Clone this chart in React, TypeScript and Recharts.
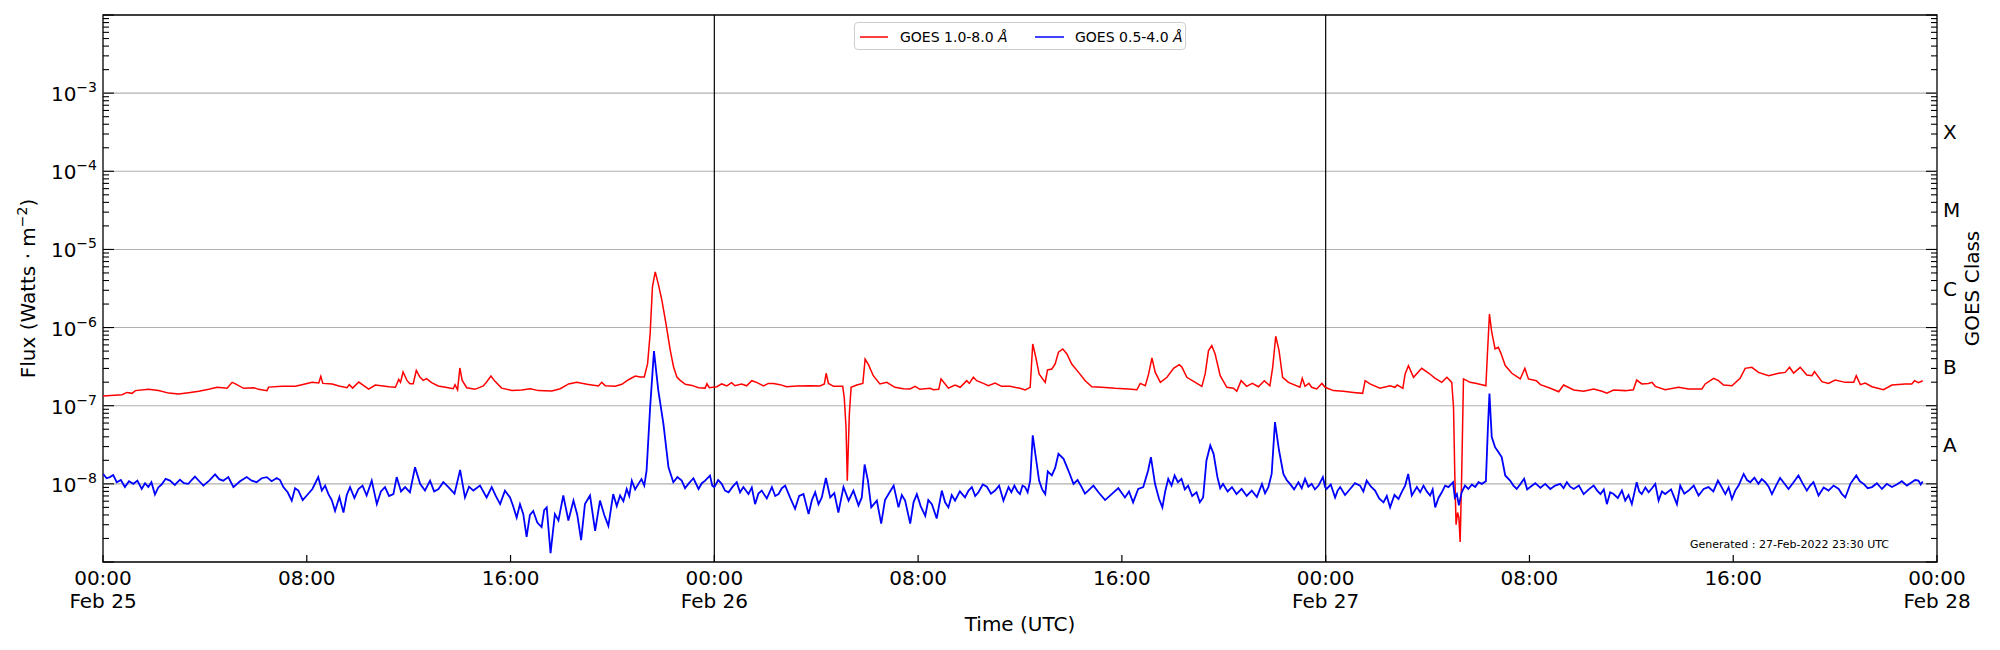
import { LineChart, Line, XAxis, YAxis, ReferenceLine, ReferenceArea } from 'recharts';

document.body.style.margin = '0';

// ─── Data (hours since Feb 25 00:00 UTC) ───────────────────────────────────

// GOES 1.0-8.0 Å, values in units of 1e-7 W/m²
const redHours = [
  0, 0.75, 0.94, 1.14, 1.27, 1.79, 2.18, 2.58, 2.97, 3.36, 3.76, 4.15, 4.48, 4.87, 5.07, 5.2,
  5.52, 5.92, 6.11, 6.44, 6.5, 7.03, 7.55, 7.81, 8.21, 8.47, 8.55, 8.63, 9.0, 9.26, 9.58, 9.67,
  9.8, 10.04, 10.43, 10.69, 11.22, 11.48, 11.61, 11.68, 11.78, 11.94, 12.05, 12.18, 12.3, 12.44,
  12.57, 12.7, 12.9, 13.16, 13.55, 13.75, 13.82, 13.92, 14.01, 14.1, 14.28, 14.6, 14.93, 15.06,
  15.23, 15.39, 15.65, 16.05, 16.44, 16.77, 17.1, 17.62, 17.95, 18.28, 18.6, 19.0, 19.45, 19.58,
  19.72, 20.11, 20.37, 20.63, 20.9, 21.09, 21.25, 21.38, 21.48, 21.57, 21.68, 21.81, 21.94, 22.1,
  22.27, 22.4, 22.53, 22.66, 22.86, 23.12, 23.38, 23.64, 23.71, 23.8, 24.1, 24.29, 24.49, 24.68,
  24.81, 25.07, 25.27, 25.47, 25.66, 25.93, 26.12, 26.32, 26.58, 26.84, 27.24, 27.76, 28.15, 28.32,
  28.39, 28.48, 28.68, 29.04, 29.1, 29.17, 29.22, 29.3, 29.37, 29.59, 29.83, 29.92, 30.05, 30.24,
  30.5, 30.77, 31.09, 31.42, 31.68, 31.88, 32.07, 32.47, 32.6, 32.81, 32.9, 33.06, 33.19, 33.45,
  33.65, 33.91, 34.01, 34.17, 34.3, 34.56, 34.76, 35.02, 35.28, 35.61, 36.0, 36.2, 36.4, 36.5,
  36.62, 36.75, 36.99, 37.08, 37.25, 37.38, 37.51, 37.68, 37.84, 38.03, 38.3, 38.56, 38.82, 39.21,
  39.74, 40.26, 40.59, 40.72, 40.92, 41.05, 41.18, 41.31, 41.51, 41.77, 42.03, 42.25, 42.36, 42.55,
  42.88, 43.14, 43.27, 43.4, 43.53, 43.66, 43.86, 44.12, 44.38, 44.51, 44.68, 44.9, 45.12, 45.36,
  45.59, 45.81, 45.92, 46.04, 46.17, 46.31, 46.54, 46.99, 47.08, 47.19, 47.34, 47.45, 47.65, 47.85,
  47.98, 48.3, 48.7, 49.09, 49.45, 49.55, 49.74, 50.13, 50.53, 50.72, 50.81, 51.03, 51.12, 51.25,
  51.45, 51.77, 52.04, 52.3, 52.56, 52.76, 52.95, 53.02, 53.07, 53.12, 53.18, 53.23, 53.28, 53.34,
  53.41, 53.67, 53.93, 54.29, 54.35, 54.43, 54.52, 54.65, 54.78, 54.88, 55.05, 55.31, 55.64, 55.82,
  55.96, 56.27, 56.43, 56.82, 57.15, 57.34, 57.74, 58.13, 58.52, 58.85, 59.04, 59.3, 59.76, 60.08,
  60.21, 60.41, 60.67, 60.81, 60.94, 61.33, 61.85, 62.25, 62.77, 62.9, 63.23, 63.42, 63.62, 63.95,
  64.27, 64.47, 64.73, 64.99, 65.39, 65.78, 66.04, 66.21, 66.37, 66.63, 66.89, 67.09, 67.19, 67.48,
  67.74, 68.0, 68.4, 68.73, 68.83, 68.99, 69.18, 69.45, 69.9, 70.23, 70.75, 71.01, 71.12, 71.27,
  71.44,
];
const redValues = [
  1.33, 1.38, 1.48, 1.44, 1.56, 1.62, 1.57, 1.45, 1.41, 1.47, 1.53, 1.62, 1.72, 1.67, 1.99, 1.9,
  1.67, 1.7, 1.62, 1.56, 1.73, 1.77, 1.77, 1.86, 1.99, 1.95, 2.38, 1.93, 1.9, 1.79, 1.7, 1.86,
  1.68, 2.01, 1.63, 1.84, 1.75, 1.72, 2.17, 1.99, 2.7, 2.09, 1.91, 1.91, 2.84, 2.33,
  2.11, 2.22, 1.97, 1.79, 1.7, 1.65, 1.86, 1.6, 3.04, 2.11, 1.7, 1.62, 1.79, 2.01,
  2.4, 2.05, 1.68, 1.57, 1.59, 1.65, 1.56, 1.54, 1.65, 1.9, 1.99, 1.88, 1.79, 1.99,
  1.8, 1.77, 1.88, 2.15, 2.4, 2.33, 2.33, 3.45, 8.36, 33.2, 51.6, 34.9, 22.4, 11.3,
  5.12, 3.13, 2.33, 2.11, 1.88, 1.82, 1.7, 1.68, 1.91, 1.7, 1.75, 1.9, 1.79, 1.97,
  1.8, 1.9, 1.8, 2.09, 1.99, 1.79, 1.93, 1.93, 1.86, 1.75, 1.79, 1.8, 1.79, 1.9,
  2.6, 1.93, 1.77, 1.77, 1.28, 0.53, 0.11, 0.78, 1.72, 1.84, 1.93, 3.96, 3.36, 2.42,
  1.9, 1.99, 1.72, 1.65, 1.64, 1.77, 1.62, 1.67, 1.6, 1.62, 2.2, 1.9, 1.68, 1.84,
  1.72, 2.09, 1.93, 2.31, 2.09, 1.93, 1.8, 1.95, 1.77, 1.77, 1.67, 1.59, 1.72, 6.17,
  4.17, 2.55, 1.99, 2.87, 2.95, 3.42, 4.83, 5.32, 4.59, 3.42, 2.67, 2.09, 1.75, 1.72,
  1.67, 1.64, 1.6, 1.93, 1.8, 2.55, 4.08, 2.67, 1.99, 2.31, 3.01, 3.35, 3.1, 2.31,
  1.99, 1.77, 2.55, 5.07, 5.88, 4.59, 2.42, 1.72, 1.67, 1.53, 2.09, 1.77, 1.93, 1.75,
  2.09, 1.8, 3.1, 7.74, 5.07, 2.31, 1.99, 1.72, 2.24, 1.77, 1.93, 1.72, 1.64, 1.93,
  1.72, 1.56, 1.53, 1.48, 1.44, 2.09, 1.9, 1.68, 1.8, 1.72, 1.84, 1.67, 2.55, 3.26,
  2.31, 3.01, 2.62, 2.24, 1.99, 2.31, 1.99, 0.95, 0.13, 0.03, 0.043, 0.037, 0.018, 0.13,
  2.2, 1.99, 1.93, 1.8, 4.59, 14.9, 8.72, 5.32, 5.58, 4.68, 3.26, 2.6, 2.2, 3.01,
  2.2, 2.09, 1.86, 1.67, 1.51, 1.84, 1.59, 1.53, 1.64, 1.53, 1.45, 1.59, 1.56, 1.6,
  2.13, 1.9, 1.93, 1.99, 1.77, 1.6, 1.72, 1.64, 1.64, 1.9, 2.24, 2.09, 1.84, 1.8,
  2.24, 3.01, 3.1, 2.67, 2.42, 2.6, 2.67, 3.1, 2.62, 3.1, 2.47, 2.42, 2.73, 2.03,
  1.93, 2.13, 1.99, 1.99, 2.42, 1.86, 1.95, 1.75, 1.6, 1.84, 1.9, 1.9, 2.09, 1.97,
  2.09,
];

// GOES 0.5-4.0 Å, values in units of 1e-8 W/m²
const blueHours = [
  0.01, 0.14, 0.27, 0.4, 0.54, 0.7, 0.86, 1.02, 1.19, 1.35,
  1.52, 1.65, 1.78, 1.9, 2.04, 2.17, 2.3, 2.46, 2.63, 2.82,
  3.02, 3.18, 3.35, 3.48, 3.61, 3.78, 3.94, 4.17, 4.4, 4.56,
  4.72, 4.92, 5.12, 5.38, 5.64, 5.84, 6.03, 6.23, 6.43, 6.62,
  6.82, 6.95, 7.08, 7.25, 7.41, 7.54, 7.67, 7.84, 8.0, 8.22,
  8.45, 8.59, 8.72, 8.85, 8.98, 9.11, 9.28, 9.44, 9.57, 9.7,
  9.87, 10.03, 10.19, 10.35, 10.55, 10.75, 10.91, 11.07, 11.23, 11.4,
  11.53, 11.7, 11.86, 12.05, 12.25, 12.45, 12.64, 12.84, 13.0, 13.17,
  13.36, 13.56, 13.8, 14.02, 14.21, 14.37, 14.54, 14.8, 15.06, 15.26,
  15.42, 15.59, 15.78, 15.98, 16.1, 16.24, 16.37, 16.5, 16.63, 16.76,
  16.89, 17.05, 17.22, 17.32, 17.42, 17.57, 17.74, 17.88, 18.07, 18.27,
  18.47, 18.62, 18.77, 18.92, 19.12, 19.32, 19.51, 19.68, 19.84, 20.03,
  20.17, 20.3, 20.43, 20.56, 20.66, 20.76, 20.89, 21.02, 21.14, 21.25,
  21.34, 21.48, 21.63, 21.8, 22.0, 22.2, 22.39, 22.55, 22.72, 22.85,
  22.98, 23.18, 23.38, 23.51, 23.64, 23.83, 23.92, 24.0, 24.15, 24.29,
  24.42, 24.56, 24.72, 24.88, 25.01, 25.14, 25.34, 25.47, 25.6, 25.73,
  25.86, 26.06, 26.26, 26.39, 26.52, 26.65, 26.78, 26.98, 27.17, 27.33,
  27.5, 27.7, 27.83, 27.96, 28.09, 28.22, 28.38, 28.55, 28.71, 28.87,
  29.07, 29.27, 29.46, 29.66, 29.79, 29.9, 30.03, 30.16, 30.38, 30.55,
  30.7, 30.84, 31.04, 31.23, 31.36, 31.49, 31.69, 31.82, 31.95, 32.1,
  32.28, 32.4, 32.54, 32.73, 32.93, 33.06, 33.19, 33.32, 33.45, 33.64,
  33.84, 33.98, 34.11, 34.24, 34.37, 34.54, 34.7, 34.86, 35.02, 35.18,
  35.35, 35.55, 35.66, 35.78, 35.9, 36.0, 36.1, 36.2, 36.3, 36.4,
  36.5, 36.62, 36.75, 36.87, 36.99, 37.09, 37.25, 37.38, 37.51, 37.71,
  37.9, 38.1, 38.26, 38.42, 38.55, 38.68, 38.88, 39.08, 39.34, 39.6,
  39.86, 40.12, 40.28, 40.44, 40.64, 40.84, 41.03, 41.14, 41.3, 41.46,
  41.59, 41.7, 41.82, 41.95, 42.07, 42.2, 42.34, 42.47, 42.6, 42.76,
  42.93, 43.06, 43.19, 43.32, 43.47, 43.6, 43.75, 43.86, 43.97, 44.15,
  44.32, 44.5, 44.7, 44.9, 45.1, 45.3, 45.5, 45.62, 45.75, 45.88,
  46.01, 46.17, 46.34, 46.47, 46.6, 46.76, 46.93, 47.06, 47.19, 47.32,
  47.45, 47.58, 47.72, 47.89, 47.98, 48.04, 48.2, 48.37, 48.47, 48.57,
  48.76, 48.96, 49.15, 49.35, 49.48, 49.61, 49.78, 49.94, 50.1, 50.27,
  50.4, 50.53, 50.7, 50.86, 51.0, 51.12, 51.24, 51.38, 51.58, 51.71,
  51.84, 51.97, 52.1, 52.2, 52.3, 52.43, 52.56, 52.69, 52.82, 53.0,
  53.07, 53.15, 53.23, 53.34, 53.47, 53.6, 53.74, 53.87, 54.0, 54.13,
  54.29, 54.37, 54.43, 54.52, 54.65, 54.78, 54.91, 55.05, 55.24, 55.37,
  55.5, 55.65, 55.79, 55.91, 56.03, 56.23, 56.43, 56.62, 56.82, 57.01,
  57.21, 57.34, 57.47, 57.6, 57.74, 57.94, 58.13, 58.33, 58.52, 58.66,
  58.79, 58.92, 59.04, 59.17, 59.3, 59.47, 59.63, 59.76, 59.89, 60.02,
  60.21, 60.31, 60.41, 60.55, 60.68, 60.81, 60.94, 61.07, 61.2, 61.33,
  61.56, 61.79, 61.92, 62.08, 62.25, 62.45, 62.64, 62.84, 63.03, 63.22,
  63.4, 63.55, 63.69, 63.82, 63.95, 64.08, 64.21, 64.41, 64.54, 64.67,
  64.83, 64.99, 65.12, 65.26, 65.39, 65.52, 65.68, 65.84, 66.0, 66.17,
  66.37, 66.56, 66.72, 66.89, 67.02, 67.15, 67.35, 67.55, 67.74, 67.94,
  68.14, 68.27, 68.4, 68.6, 68.83, 68.97, 69.12, 69.28, 69.45, 69.64,
  69.84, 70.03, 70.23, 70.42, 70.62, 70.82, 71.01, 71.14, 71.27, 71.36,
  71.44,
];
const blueValues = [
  1.34, 1.18, 1.22, 1.3, 1.05, 1.12, 0.91, 1.08, 1.0, 1.1,
  0.86, 1.02, 0.91, 1.05, 0.73, 0.9, 0.98, 1.16, 1.1, 0.97,
  1.13, 1.02, 1.0, 1.12, 1.24, 1.08, 0.95, 1.1, 1.32, 1.15,
  1.1, 1.22, 0.91, 1.08, 1.22, 1.1, 1.05, 1.18, 1.22, 1.08,
  1.19, 1.12, 0.91, 0.78, 0.61, 0.88, 0.82, 0.62, 0.71, 0.86,
  1.22, 0.82, 0.95, 0.74, 0.62, 0.45, 0.68, 0.43, 0.72, 0.91,
  0.66, 0.86, 0.95, 0.71, 1.1, 0.55, 0.8, 0.91, 0.7, 0.74,
  1.22, 0.8, 0.91, 0.78, 1.63, 1.0, 0.82, 1.1, 0.8, 0.86,
  1.05, 0.91, 0.75, 1.51, 0.67, 0.92, 0.82, 0.95, 0.67, 0.91,
  0.7, 0.55, 0.82, 0.67, 0.52, 0.37, 0.55, 0.41, 0.21, 0.4,
  0.45, 0.32, 0.28, 0.46, 0.5, 0.13, 0.41, 0.34, 0.71, 0.34,
  0.61, 0.4, 0.19, 0.55, 0.71, 0.25, 0.61, 0.4, 0.29, 0.74,
  0.52, 0.71, 0.6, 0.86, 0.7, 1.1, 0.85, 1.0, 1.15, 0.95,
  1.48, 9.6, 49.9, 15.7, 5.88, 1.63, 1.05, 1.22, 1.1, 0.88,
  1.0, 1.18, 0.86, 1.02, 1.1, 1.28, 0.95, 0.91, 1.12, 1.0,
  0.82, 0.78, 0.92, 1.05, 0.78, 0.91, 0.74, 0.9, 0.55, 0.75,
  0.82, 0.65, 0.91, 0.7, 0.74, 0.88, 0.95, 0.66, 0.48, 0.7,
  0.74, 0.41, 0.62, 0.78, 0.55, 0.67, 1.19, 0.67, 0.76, 0.43,
  0.91, 0.61, 0.82, 0.53, 0.67, 1.77, 1.1, 0.5, 0.61, 0.31,
  0.62, 0.74, 0.95, 0.5, 0.72, 0.61, 0.31, 0.58, 0.74, 0.52,
  0.39, 0.62, 0.55, 0.36, 0.82, 0.58, 0.5, 0.72, 0.61, 0.8,
  0.67, 0.82, 0.91, 0.7, 0.78, 0.98, 0.92, 0.75, 0.82, 0.95,
  0.61, 0.91, 0.78, 0.95, 0.8, 0.74, 0.95, 0.91, 0.78, 1.1,
  4.17, 2.2, 1.1, 0.85, 0.74, 1.44, 1.28, 1.6, 2.42, 2.09,
  1.48, 1.0, 1.12, 0.91, 0.75, 0.82, 0.95, 0.78, 0.62, 0.74,
  0.88, 0.67, 0.8, 0.58, 0.86, 0.91, 1.48, 2.2, 1.0, 0.64,
  0.5, 0.8, 1.16, 0.95, 1.28, 1.05, 1.16, 0.85, 0.95, 0.7,
  0.78, 0.58, 0.67, 1.99, 3.1, 2.42, 1.22, 0.88, 1.0, 0.8,
  0.91, 0.74, 0.86, 0.7, 0.82, 0.68, 1.0, 0.76, 0.91, 1.34,
  6.17, 2.67, 1.34, 1.12, 1.0, 0.85, 1.05, 0.88, 1.16, 0.92,
  1.0, 0.85, 0.95, 1.22, 0.91, 0.86, 0.98, 0.67, 0.82, 0.91,
  0.72, 0.86, 1.02, 0.95, 0.8, 1.1, 0.92, 0.82, 0.65, 0.58,
  0.7, 0.5, 0.72, 0.64, 0.8, 0.95, 1.34, 0.71, 0.91, 0.78,
  0.95, 0.8, 0.71, 0.85, 0.5, 0.66, 0.78, 0.95, 0.91, 1.05,
  0.67, 0.74, 0.53, 0.78, 0.95, 0.86, 0.98, 0.91, 1.05, 1.0,
  1.08, 5.32, 14.3, 3.96, 2.95, 2.55, 2.2, 1.28, 1.1, 0.95,
  0.86, 1.0, 1.16, 0.85, 0.91, 1.02, 0.89, 1.0, 0.86, 0.95,
  1.0, 0.88, 1.05, 0.92, 0.86, 0.95, 0.74, 0.85, 0.95, 0.82,
  0.74, 0.85, 0.55, 0.78, 0.74, 0.66, 0.82, 0.61, 0.72, 0.55,
  1.05, 0.8, 0.74, 0.9, 0.78, 0.88, 1.0, 0.61, 0.8, 0.74,
  0.85, 0.55, 0.95, 0.75, 0.82, 0.95, 0.71, 0.86, 0.91, 0.8,
  1.1, 0.9, 0.74, 0.9, 0.64, 0.82, 0.95, 1.34, 1.12, 1.05,
  1.2, 1.0, 1.15, 1.05, 0.92, 0.74, 0.95, 1.19, 1.02, 0.86,
  1.05, 1.28, 1.02, 0.82, 0.95, 1.05, 0.71, 0.9, 0.82, 0.95,
  0.86, 0.74, 0.67, 1.0, 1.28, 1.08, 1.0, 0.88, 0.91, 1.02,
  0.86, 1.0, 0.91, 0.98, 1.08, 0.95, 1.05, 1.12, 1.1, 0.98,
  1.07,
];

const xTicks = [0, 8, 16, 24, 32, 40, 48, 56, 64, 72];
const dayLabels = ['Feb 25', 'Feb 26', 'Feb 27', 'Feb 28'];
const dayLines = [24, 48];
const decades = [-9, -8, -7, -6, -5, -4, -3];
const gridDecades = [1e-8, 1e-7, 1e-6, 1e-5, 1e-4, 1e-3];
const goesClasses = ['A', 'B', 'C', 'M', 'X'];

// ─── Layout ─────────────────────────────────────────────────────────────────

const W = 2000;
const H = 650;
const PLOT_LEFT = 103;
const PLOT_RIGHT = 1937;
const PLOT_TOP = 15;
const PLOT_BOTTOM = 562;
const FONT = '"DejaVu Sans", Verdana, sans-serif';

const redData = redHours.map((t, i) => ({ t, v: redValues[i] * 1e-7 }));
const blueData = blueHours.map((t, i) => ({ t, v: blueValues[i] * 1e-8 }));

// major + minor log ticks
const yTicks: number[] = [];
decades.forEach((d) => {
  for (let m = 1; m <= 9; m++) yTicks.push(m * Math.pow(10, d));
});
yTicks.push(1e-2);

// class letters sit halfway through the decade A: 1e-8..1e-7, etc.
const classTicks = goesClasses.map((_, i) => Math.pow(10, -7.5 + i));

function isMajor(v: number) {
  const lg = Math.log10(v);
  return Math.abs(lg - Math.round(lg)) < 1e-6;
}

// ─── Ticks ──────────────────────────────────────────────────────────────────

function TimeTick(props: any) {
  const { x, payload } = props;
  const h: number = payload.value;
  const hh = `${String(h % 24).padStart(2, '0')}:00`;
  const day = h % 24 === 0 ? dayLabels[h / 24] : null;
  return (
    <g>
      <line x1={x} x2={x} y1={PLOT_BOTTOM} y2={PLOT_BOTTOM - 7} stroke="#000" strokeWidth={1.2} />
      <text x={x} y={585} textAnchor="middle" fontSize={20} fontFamily={FONT} fill="#000">
        {hh}
      </text>
      {day && (
        <text x={x} y={608} textAnchor="middle" fontSize={20} fontFamily={FONT} fill="#000">
          {day}
        </text>
      )}
    </g>
  );
}

function FluxTick(props: any) {
  const { y, payload } = props;
  const v: number = payload.value;
  const major = isMajor(v);
  const e = Math.round(Math.log10(v));
  const len = major ? 11 : 6;
  return (
    <g>
      <line x1={PLOT_LEFT} x2={PLOT_LEFT + len} y1={y} y2={y} stroke="#000" strokeWidth={1.1} />
      {major && e >= -8 && e <= -3 && (
        <text x={97} y={y + 8} textAnchor="end" fontSize={20} fontFamily={FONT} fill="#000">
          10
          <tspan dy={-9} fontSize={14}>
            {`\u2212${-e}`}
          </tspan>
        </text>
      )}
    </g>
  );
}

function ClassTick(props: any) {
  const { y, payload } = props;
  const v: number = payload.value;
  const ci = classTicks.findIndex((c) => Math.abs(c - v) / c < 1e-6);
  if (ci >= 0) {
    return (
      <text x={1943} y={y + 7} fontSize={20} fontFamily={FONT} fill="#000">
        {goesClasses[ci]}
      </text>
    );
  }
  const len = isMajor(v) ? 11 : 6;
  return <line x1={PLOT_RIGHT - len} x2={PLOT_RIGHT} y1={y} y2={y} stroke="#000" strokeWidth={1.1} />;
}

// ─── Legend ─────────────────────────────────────────────────────────────────

function LegendBox() {
  return (
    <div
      style={{
        position: 'absolute',
        left: 854,
        top: 22,
        width: 330,
        height: 26,
        border: '1px solid #cccccc',
        borderRadius: 4,
        background: 'rgba(255,255,255,0.8)',
      }}
    >
      <svg width={330} height={26} style={{ display: 'block' }}>
        <line x1={5} x2={33} y1={14} y2={14} stroke="#ff0000" strokeWidth={1.5} />
        <text x={45} y={19} fontSize={14} fontFamily={FONT} fill="#000">
          GOES 1.0-8.0 <tspan fontStyle="italic">Å</tspan>
        </text>
        <line x1={180} x2={209} y1={14} y2={14} stroke="#0000ff" strokeWidth={1.5} />
        <text x={220} y={19} fontSize={14} fontFamily={FONT} fill="#000">
          GOES 0.5-4.0 <tspan fontStyle="italic">Å</tspan>
        </text>
      </svg>
    </div>
  );
}

// ─── Main ───────────────────────────────────────────────────────────────────

export default function App() {
  return (
    <div style={{ position: 'relative', width: W, height: H, background: '#fff', fontFamily: FONT }}>
      <LineChart width={W} height={H} margin={{ top: PLOT_TOP, right: 0, bottom: 0, left: 0 }}>
        <XAxis
          type="number"
          dataKey="t"
          domain={[0, 72]}
          ticks={xTicks}
          interval={0}
          height={H - PLOT_BOTTOM}
          axisLine={false}
          tickLine={false}
          tick={(p: any) => <TimeTick {...p} />}
          allowDataOverflow
        />
        <YAxis
          yAxisId="flux"
          type="number"
          scale="log"
          domain={[1e-9, 1e-2]}
          ticks={yTicks}
          interval={0}
          width={PLOT_LEFT}
          axisLine={false}
          tickLine={false}
          tick={(p: any) => <FluxTick {...p} />}
          allowDataOverflow
        />
        <YAxis
          yAxisId="goes"
          orientation="right"
          type="number"
          scale="log"
          domain={[1e-9, 1e-2]}
          ticks={[...yTicks, ...classTicks]}
          interval={0}
          width={W - PLOT_RIGHT}
          axisLine={false}
          tickLine={false}
          tick={(p: any) => <ClassTick {...p} />}
          allowDataOverflow
        />

        {gridDecades.map((g) => (
          <ReferenceLine key={g} y={g} yAxisId="flux" stroke="#b0b0b0" strokeWidth={1.1} />
        ))}
        {dayLines.map((d) => (
          <ReferenceLine key={d} x={d} yAxisId="flux" stroke="#000" strokeWidth={1.2} />
        ))}

        <Line
          data={redData}
          dataKey="v"
          yAxisId="flux"
          type="linear"
          stroke="#ff0000"
          strokeWidth={1.5}
          dot={false}
          isAnimationActive={false}
        />
        <Line
          data={blueData}
          dataKey="v"
          yAxisId="flux"
          type="linear"
          stroke="#0000ff"
          strokeWidth={1.8}
          dot={false}
          isAnimationActive={false}
        />

        <ReferenceArea
          x1={0}
          x2={72}
          y1={1e-9}
          y2={1e-2}
          yAxisId="flux"
          fill="none"
          fillOpacity={0}
          stroke="#000"
          strokeWidth={1.3}
        />
      </LineChart>

      <LegendBox />

      <svg
        width={W}
        height={H}
        style={{ position: 'absolute', left: 0, top: 0, pointerEvents: 'none' }}
      >
        <text
          transform={`translate(35, ${(PLOT_TOP + PLOT_BOTTOM) / 2}) rotate(-90)`}
          textAnchor="middle"
          fontSize={20}
          fontFamily={FONT}
          fill="#000"
        >
          Flux (Watts · m
          <tspan dy={-8} fontSize={14}>
            −2
          </tspan>
          <tspan dy={8}>)</tspan>
        </text>
        <text
          transform={`translate(1979, ${(PLOT_TOP + PLOT_BOTTOM) / 2}) rotate(-90)`}
          textAnchor="middle"
          fontSize={20}
          fontFamily={FONT}
          fill="#000"
        >
          GOES Class
        </text>
        <text
          x={(PLOT_LEFT + PLOT_RIGHT) / 2}
          y={631}
          textAnchor="middle"
          fontSize={20}
          fontFamily={FONT}
          fill="#000"
        >
          Time (UTC)
        </text>
        <text x={1690} y={548} fontSize={11} fontFamily={FONT} fill="#000">
          Generated : 27-Feb-2022 23:30 UTC
        </text>
      </svg>
    </div>
  );
}
